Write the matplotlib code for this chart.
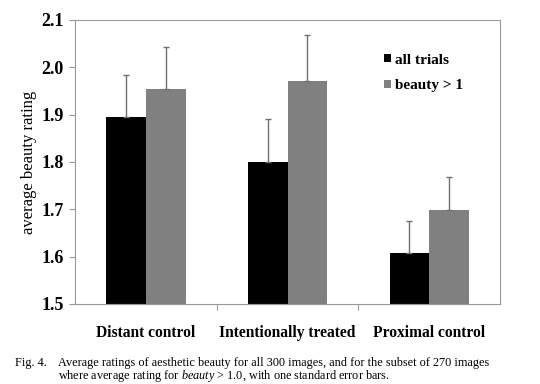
import matplotlib
matplotlib.use("Agg")
import matplotlib.pyplot as plt
import numpy as np

plt.rcParams["mathtext.fontset"] = "custom"
plt.rcParams["mathtext.it"] = "Liberation Serif:italic"
plt.rcParams["mathtext.rm"] = "Liberation Serif"

categories = ["Distant control", "Intentionally treated", "Proximal control"]
all_trials = [1.895, 1.800, 1.608]
all_trials_err = [0.089, 0.090, 0.068]
beauty_gt1 = [1.955, 1.971, 1.698]
beauty_gt1_err = [0.087, 0.097, 0.070]
series_names = ["all trials", "beauty > 1"]
yticks = [1.5, 1.6, 1.7, 1.8, 1.9, 2.0, 2.1]

serif = "Liberation Serif"
fig = plt.figure(figsize=(5.4, 3.84), dpi=100)
ax = fig.add_axes([75/540, 1-304/384, 425/540, 284/384])

x = np.arange(len(categories))
w = 0.28
ax.bar(x - w/2, all_trials, w, color="black", label=series_names[0], zorder=2)
ax.bar(x + w/2, beauty_gt1, w, color="#808080", label=series_names[1], zorder=2)
ax.errorbar(x - w/2, all_trials, yerr=[np.zeros(3), all_trials_err], fmt="none",
            ecolor="#707070", elinewidth=1, capsize=2, capthick=1, zorder=3)
ax.errorbar(x + w/2, beauty_gt1, yerr=[np.zeros(3), beauty_gt1_err], fmt="none",
            ecolor="#707070", elinewidth=1, capsize=2, capthick=1, zorder=3)

ax.set_xlim(-0.5, 2.5)
ax.set_ylim(1.5, 2.1)
ax.set_yticks(yticks)
ax.set_yticklabels([f"{t:.1f}" for t in yticks], fontfamily=serif, fontweight="bold", fontsize=13)
ax.set_xticks([0.5, 1.5], minor=False)
ax.set_xticklabels([])
ax.set_xticks(x, minor=True)
ax.set_xticklabels(categories, minor=True, fontfamily=serif, fontweight="bold", fontsize=11.2)
ax.tick_params(axis="x", which="minor", length=0, pad=15)
ax.tick_params(axis="x", which="major", length=4, color="#999999", direction="out")
ax.tick_params(axis="y", length=4, color="#999999", direction="out", pad=4)
for s in ax.spines.values():
    s.set_color("#999999")
    s.set_linewidth(0.8)

ax.set_ylabel("average beauty rating", fontfamily=serif, fontsize=12, labelpad=3)

leg = ax.legend(loc="upper left", bbox_to_anchor=(0.727, 0.882), frameon=False, borderpad=0,
                borderaxespad=0,
                prop={"family": serif, "weight": "bold", "size": 11},
                handlelength=0.45, handleheight=0.45, handletextpad=0.3, labelspacing=0.85)

fig.text(15/540, 1-363/384, "Fig. 4.", fontfamily=serif, fontsize=8.8, va="center")
fig.text(58/540, 1-363/384,
         "Average ratings of aesthetic beauty for all 300 images, and for the subset of 270 images",
         fontfamily=serif, fontsize=8.8, va="center")
fig.text(58/540, 1-376/384,
         r"where average rating for $\mathit{beauty}$ > 1.0, with one standard error bars.",
         fontfamily=serif, fontsize=8.8, va="center")
fig.savefig("out.png", dpi=100)
